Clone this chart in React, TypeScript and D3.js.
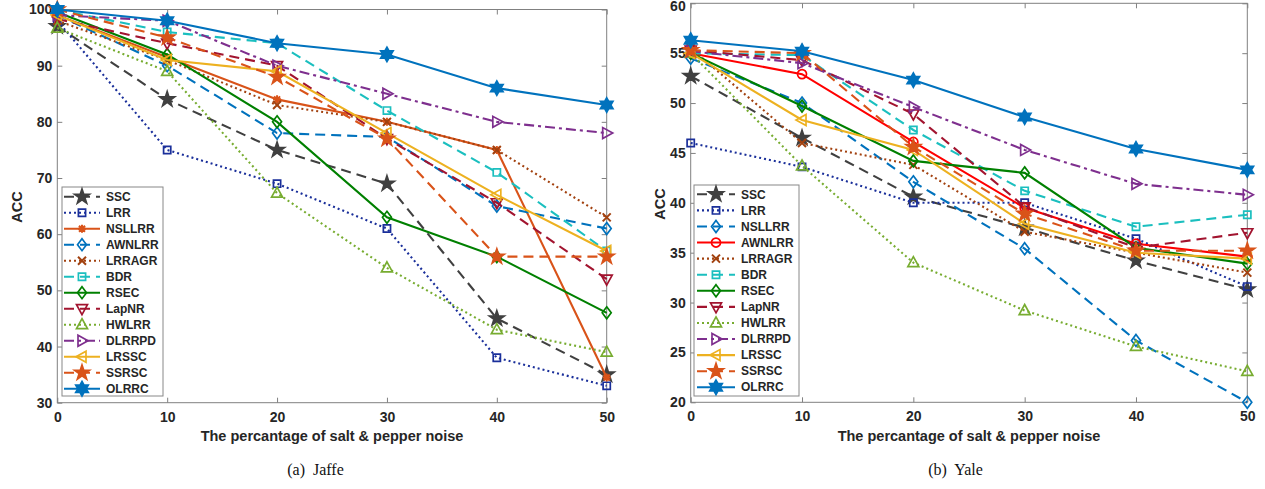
import React, { useEffect, useRef } from 'react';
import * as d3 from 'd3';

// noise levels on the x axis (percent)
const noiseLevels = [0, 10, 20, 30, 40, 50];
const methods = ['SSC', 'LRR', 'NSLLRR', 'AWNLRR', 'LRRAGR', 'BDR', 'RSEC', 'LapNR', 'HWLRR', 'DLRRPD', 'LRSSC', 'SSRSC', 'OLRRC'];

// ACC on Jaffe, one row per method (same order as methods)
const jaffeAcc = [
  [97, 84, 75, 69, 45, 35],
  [98, 75, 69, 61, 38, 33],
  [99, 91.5, 84, 80, 75, 34.5],
  [99, 90, 78, 77.3, 65, 61],
  [98, 91, 83, 80, 75, 63],
  [100, 96, 94, 82, 71, 57],
  [99.5, 92, 80, 63, 56, 46],
  [98.3, 94, 90, 77, 65.6, 52],
  [96.7, 89, 67.3, 54, 43, 39],
  [99, 98, 90, 85, 80, 78],
  [99, 91, 89, 78, 67, 57],
  [100, 95, 88, 77, 56, 56],
  [100, 98, 94, 92, 86, 83],
];

// ACC on Yale
const yaleAcc = [
  [52.7, 46.5, 40.6, 37.5, 34.2, 31.3],
  [46, 43.6, 40, 40, 36.4, 31.6],
  [54.5, 50, 42.1, 35.4, 26.2, 20],
  [55, 52.9, 46.1, 39.5, 35.9, 34.6],
  [55.5, 46, 43.8, 37.1, 35, 33],
  [55, 54.8, 47.3, 41.2, 37.6, 38.8],
  [55, 49.7, 44.2, 43, 35.5, 33.9],
  [55.3, 54.3, 48.9, 39.6, 35.5, 37],
  [55, 43.7, 34, 29.2, 25.6, 23.1],
  [55.2, 54, 49.6, 45.3, 41.9, 40.8],
  [55, 48.3, 45.3, 37.9, 35, 34.4],
  [55.3, 55, 45.6, 38.9, 35.2, 35.2],
  [56.3, 55.2, 52.3, 48.6, 45.4, 43.3],
];

const xTicks = [0, 10, 20, 30, 40, 50];
const jaffeYTicks = [30, 40, 50, 60, 70, 80, 90, 100];
const yaleYTicks = [20, 25, 30, 35, 40, 45, 50, 55, 60];

type Style = { color: string; dash: string; marker: string; filled?: boolean };

const DASH: Record<string, string | null> = {
  solid: null,
  dashed: '10,6',
  dotted: '2,3',
  dashdot: '10,4,3,4',
};

const jaffeStyles: Style[] = [
  { color: '#404040', dash: 'dashed', marker: 'star', filled: true },
  { color: '#1a2f9a', dash: 'dotted', marker: 'square' },
  { color: '#D95319', dash: 'solid', marker: 'asterisk' },
  { color: '#0072BD', dash: 'dashed', marker: 'diamond' },
  { color: '#A2410F', dash: 'dotted', marker: 'x' },
  { color: '#1BBFBF', dash: 'dashed', marker: 'square' },
  { color: '#008000', dash: 'solid', marker: 'diamond' },
  { color: '#A2142F', dash: 'dashed', marker: 'triDown' },
  { color: '#77AC30', dash: 'dotted', marker: 'triUp' },
  { color: '#7E2F8E', dash: 'dashdot', marker: 'triRight' },
  { color: '#EDB120', dash: 'solid', marker: 'triLeft' },
  { color: '#D95319', dash: 'dashed', marker: 'star', filled: true },
  { color: '#0072BD', dash: 'solid', marker: 'hexagram', filled: true },
];

const yaleStyles: Style[] = jaffeStyles.map((s, i) => {
  if (i === 2) return { color: '#0072BD', dash: 'dashed', marker: 'diamond' };
  if (i === 3) return { color: '#FF0000', dash: 'solid', marker: 'circle' };
  return s;
});

function starPath(n: number, R: number, r: number) {
  const pts: string[] = [];
  for (let k = 0; k < 2 * n; k++) {
    const a = -Math.PI / 2 + (k * Math.PI) / n;
    const rad = k % 2 === 0 ? R : r;
    pts.push(`${(rad * Math.cos(a)).toFixed(2)},${(rad * Math.sin(a)).toFixed(2)}`);
  }
  return 'M' + pts.join('L') + 'Z';
}

function markerPath(kind: string): string {
  switch (kind) {
    case 'star': return starPath(5, 7.8, 3.0);
    case 'hexagram': return starPath(6, 7.2, 4.1);
    case 'square': return 'M-3.6,-3.6H3.6V3.6H-3.6Z';
    case 'diamond': return 'M0,-6L4.5,0L0,6L-4.5,0Z';
    case 'circle': return d3.symbol(d3.symbolCircle, Math.PI * 4.5 * 4.5)() || '';
    case 'triUp': return 'M0,-6L5.5,4L-5.5,4Z';
    case 'triDown': return 'M0,6L5.5,-4L-5.5,-4Z';
    case 'triRight': return 'M6,0L-4,-5.5L-4,5.5Z';
    case 'triLeft': return 'M-6,0L4,-5.5L4,5.5Z';
    case 'x': return 'M-4,-4L4,4M-4,4L4,-4';
    case 'asterisk': return 'M-4,0H4M0,-4V4M-3,-3L3,3M-3,3L3,-3';
  }
  return '';
}

const SANS = '"Liberation Sans", Arial, Helvetica, sans-serif';
const AX = '#808080';
const TXT = '#262626';

type ChartProps = {
  values: number[][];
  styles: Style[];
  yDomain: [number, number];
  yTicks: number[];
  frame: { left: number; right: number; top: number; bottom: number };
  legend: { left: number; right: number; top: number; bottom: number; first: number; step: number; l0: number; l1: number; tx: number };
  ylabel: [number, number];
  captionX: number;
  caption: string;
};

function Chart(p: ChartProps) {
  const ref = useRef<SVGGElement>(null);

  useEffect(() => {
    const g = d3.select(ref.current);
    g.selectAll('*').remove();
    const { frame, legend } = p;

    const x = d3.scaleLinear().domain([0, 50]).range([frame.left, frame.right]);
    const y = d3.scaleLinear().domain(p.yDomain).range([frame.bottom, frame.top]);

    const styleAxis = (sel: any) => {
      sel.select('.domain').remove();
      sel.attr('font-family', SANS).attr('font-size', 14).attr('font-weight', 'bold');
      sel.selectAll('line').attr('stroke', AX);
      sel.selectAll('text').attr('fill', TXT);
    };

    g.append('g')
      .attr('transform', `translate(0,${frame.bottom})`)
      .call(d3.axisBottom(x).tickValues(xTicks).tickSizeInner(-5).tickSizeOuter(0).tickPadding(9).tickFormat(d3.format('d')))
      .call(styleAxis);
    g.append('g')
      .attr('transform', `translate(0,${frame.top})`)
      .call(d3.axisTop(x).tickValues(xTicks).tickSizeInner(-5).tickSizeOuter(0).tickFormat(() => ''))
      .call(styleAxis);
    const left = g.append('g')
      .attr('transform', `translate(${frame.left},0)`)
      .call(d3.axisLeft(y).tickValues(p.yTicks).tickSizeInner(-5).tickSizeOuter(0).tickPadding(5).tickFormat(d3.format('d')))
      .call(styleAxis);
    // keep the topmost label inside the page
    left.selectAll('.tick text').attr('dy', (d: any) => (y(d) < 7 ? '0.5em' : '0.32em'));
    g.append('g')
      .attr('transform', `translate(${frame.right},0)`)
      .call(d3.axisRight(y).tickValues(p.yTicks).tickSizeInner(-5).tickSizeOuter(0).tickFormat(() => ''))
      .call(styleAxis);

    g.append('rect')
      .attr('x', frame.left).attr('y', frame.top)
      .attr('width', frame.right - frame.left).attr('height', frame.bottom - frame.top)
      .attr('fill', 'none').attr('stroke', AX);

    const line = d3.line<number>()
      .x((_, j) => x(noiseLevels[j]))
      .y((d) => y(d));

    const drawMarker = (parent: any, s: Style, cx: number, cy: number) => {
      const open = s.marker === 'x' || s.marker === 'asterisk';
      parent.append('path')
        .attr('d', markerPath(s.marker))
        .attr('transform', `translate(${cx},${cy})`)
        .attr('fill', s.filled ? s.color : 'none')
        .attr('stroke', s.color)
        .attr('stroke-width', open ? 2 : 1.7);
    };

    p.values.forEach((vals, i) => {
      const s = p.styles[i];
      const series = g.append('g');
      series.append('path')
        .attr('d', line(vals))
        .attr('fill', 'none')
        .attr('stroke', s.color)
        .attr('stroke-width', 2.1)
        .attr('stroke-dasharray', DASH[s.dash]);
      vals.forEach((v, j) => drawMarker(series, s, x(noiseLevels[j]), y(v)));
    });

    // legend
    const lg = g.append('g');
    lg.append('rect')
      .attr('x', legend.left).attr('y', legend.top)
      .attr('width', legend.right - legend.left).attr('height', legend.bottom - legend.top)
      .attr('fill', 'white').attr('stroke', '#888');
    methods.forEach((m, i) => {
      const s = p.styles[i];
      const ly = legend.first + i * legend.step;
      lg.append('line')
        .attr('x1', legend.l0).attr('x2', legend.l1).attr('y1', ly).attr('y2', ly)
        .attr('stroke', s.color).attr('stroke-width', 2.1)
        .attr('stroke-dasharray', DASH[s.dash]);
      drawMarker(lg, s, (legend.l0 + legend.l1) / 2, ly);
      lg.append('text')
        .attr('x', legend.tx).attr('y', ly)
        .attr('dy', '0.35em')
        .attr('font-family', SANS).attr('font-size', 12).attr('font-weight', 'bold')
        .attr('fill', TXT)
        .text(m);
    });

    // axis labels
    g.append('text')
      .attr('transform', `translate(${p.ylabel[0]},${p.ylabel[1]}) rotate(-90)`)
      .attr('text-anchor', 'middle').attr('dy', '0.35em')
      .attr('font-family', SANS).attr('font-size', 14.5).attr('font-weight', 'bold')
      .attr('fill', TXT)
      .text('ACC');
    g.append('text')
      .attr('x', (frame.left + frame.right) / 2).attr('y', 441)
      .attr('text-anchor', 'middle')
      .attr('font-family', SANS).attr('font-size', 14.5).attr('font-weight', 'bold')
      .attr('fill', TXT)
      .text('The percantage of salt & pepper noise');
    g.append('text')
      .attr('x', p.captionX).attr('y', 475)
      .attr('text-anchor', 'middle')
      .attr('font-family', '"Liberation Serif", "Times New Roman", serif').attr('font-size', 16)
      .attr('fill', '#111')
      .style('white-space', 'pre')
      .text(p.caption);
  }, []);

  return <g ref={ref} />;
}

export default function App() {
  return (
    <svg width={1265} height={489} style={{ position: 'absolute', left: 0, top: 0, background: 'white' }}>
      <Chart
        values={jaffeAcc}
        styles={jaffeStyles}
        yDomain={[30, 100]}
        yTicks={jaffeYTicks}
        frame={{ left: 57.3, right: 606.7, top: 9.5, bottom: 402.7 }}
        legend={{ left: 62, right: 163, top: 187, bottom: 396, first: 196.7, step: 16, l0: 64, l1: 100, tx: 106 }}
        ylabel={[17, 207]}
        captionX={315.5}
        caption={'(a)  Jaffe'}
      />
      <Chart
        values={yaleAcc}
        styles={yaleStyles}
        yDomain={[20, 60]}
        yTicks={yaleYTicks}
        frame={{ left: 690.7, right: 1247.3, top: 3.3, bottom: 402.3 }}
        legend={{ left: 694, right: 799, top: 185, bottom: 396, first: 194.3, step: 16.08, l0: 697, l1: 735, tx: 741 }}
        ylabel={[660, 204]}
        captionX={955.5}
        caption={'(b)  Yale'}
      />
    </svg>
  );
}
